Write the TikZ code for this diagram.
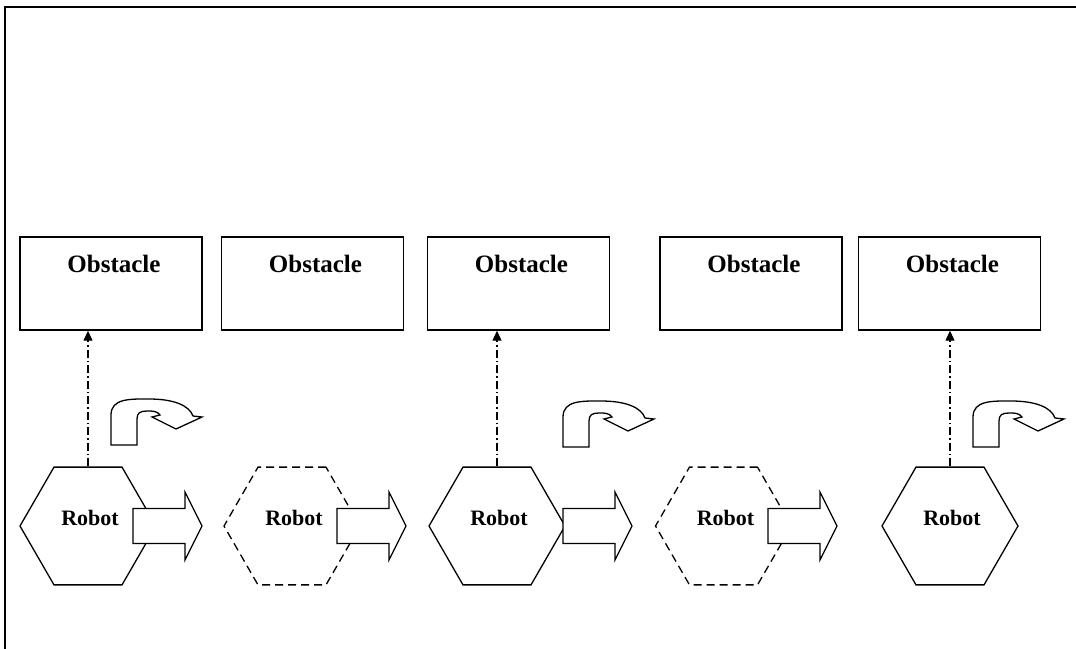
\documentclass[tikz,border=0pt]{standalone}
\usepackage{fontspec}
\setmainfont{Liberation Serif}
\usetikzlibrary{shapes.geometric,arrows.meta}
\newcommand\obsfont{\fontsize{25}{30}\selectfont\bfseries}
\newcommand\robfont{\fontsize{22}{26}\selectfont\bfseries}
\begin{document}
\begin{tikzpicture}[x=1pt,y=-1pt,
  obstacle/.style={draw, line width=1.4pt, minimum width=182pt, minimum height=93pt,
    inner sep=0pt, label={[anchor=base, xshift=3pt, yshift=-36pt, font=\obsfont]north:Obstacle}},
  robot/.style={regular polygon, regular polygon sides=6, minimum size=136pt, inner sep=0pt,
    draw, line width=1.3pt, fill=white,
    label={[anchor=base, xshift=2pt, yshift=8pt, font=\robfont]center:Robot}},
  ghost/.style={robot, dash pattern=on 8pt off 5pt},
  probe/.style={line width=1.2pt, dash pattern=on 8pt off 3pt on 1.5pt off 3pt,
    -{Triangle[length=10pt,width=9pt]}},
  blockarrow/.pic={
    \draw[fill=white, line width=1.3pt, line join=miter]
      (0,-17.5) -- (52,-17.5) -- (52,-34) -- (69,0) -- (52,34) -- (52,17.5) -- (0,17.5) -- cycle;},
  uturn/.pic={
    \draw[fill=white, line width=1.3pt, line join=miter]
      (0,0) -- (0,-30) .. controls (0,-47) and (20,-46) .. (38,-46)
      .. controls (62,-46) and (78,-40) .. (82,-29)
      -- (91,-28) -- (65,-16) -- (41,-28) -- (49,-30)
      .. controls (46,-34) and (42,-34) .. (36,-34)
      .. controls (29,-34) and (26,-32) .. (26,-26) -- (26,0) -- cycle;}
]
\useasboundingbox (0,0) rectangle (1076,648);

% page frame (open at right and bottom)
\draw[line width=2pt] (5,650) -- (5,7) -- (1078,7);

% obstacles
\node[obstacle] (o1) at (111,283.5) {};
\node[obstacle] (o2) at (312.5,283.5) {};
\node[obstacle] (o3) at (518.5,283.5) {};
\node[obstacle] (o4) at (751,283.5) {};
\node[obstacle] (o5) at (949.5,283.5) {};

% robot positions: solid = sensing, dashed = moving
\node[robot] (r1) at (88,526) {};
\node[ghost] (r2) at (292,526) {};
\node[robot] (r3) at (497,526) {};
\node[ghost] (r4) at (723.5,526) {};
\node[robot] (r5) at (950,526) {};

% sensing rays
\draw[probe] (r1.north) -- (r1.north |- o1.south);
\draw[probe] (r3.north) -- (r3.north |- o3.south);
\draw[probe] (r5.north) -- (r5.north |- o5.south);

% forward motion
\pic at (133,526) {blockarrow};
\pic at (337,526) {blockarrow};
\pic at (563,526) {blockarrow};
\pic at (768,526) {blockarrow};

% turning
\pic at (111,445) {uturn};
\pic at (563,447) {uturn};
\pic at (973,447) {uturn};
\end{tikzpicture}
\end{document}
